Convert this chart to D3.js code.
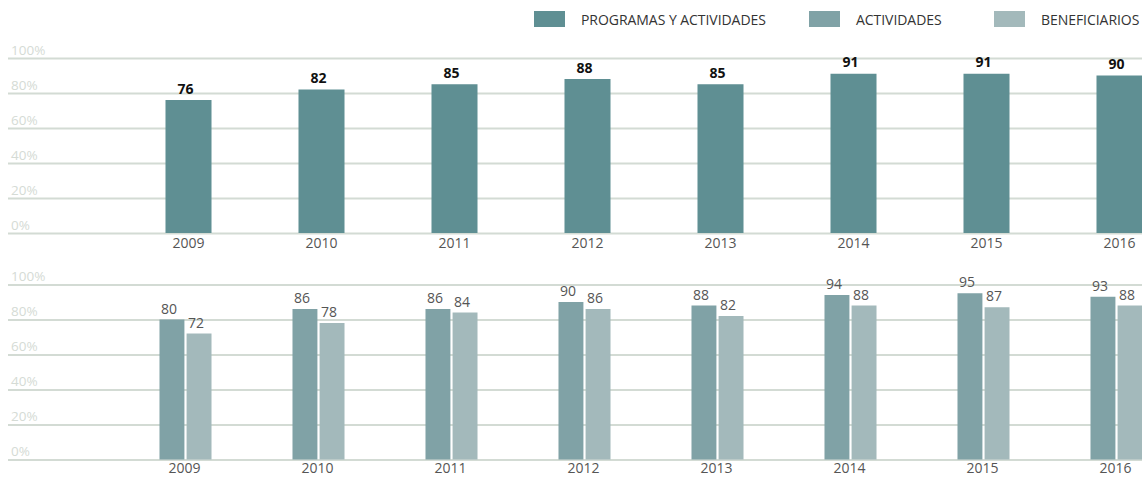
<!DOCTYPE html>
<html>
<head>
<meta charset="utf-8">
<script src="https://cdn.jsdelivr.net/npm/d3@7"></script>
<style>
  html, body { margin: 0; padding: 0; background: #fff; }
  svg { display: block; font-family: "Open Sans", sans-serif; }
</style>
</head>
<body>
<svg id="chart" width="1142" height="477"></svg>
<script>
const years = ["2009", "2010", "2011", "2012", "2013", "2014", "2015", "2016"];
const programasYActividades = [76, 82, 85, 88, 85, 91, 91, 90];
const actividades = [80, 86, 86, 90, 88, 94, 95, 93];
const beneficiarios = [72, 78, 84, 86, 82, 88, 87, 88];
const yTicks = [0, 20, 40, 60, 80, 100];
const legendLabels = ["PROGRAMAS Y ACTIVIDADES", "ACTIVIDADES", "BENEFICIARIOS"];

const colors = ["#5f8f93", "#80a2a6", "#a3b9bb"];
const gridColor = "#d3dbd4";
const svg = d3.select("#chart");
const W = 1142;

// Legend
const legendX = [534, 809, 994];
legendLabels.forEach((lab, i) => {
  const g = svg.append("g").attr("transform", `translate(${legendX[i]},11)`);
  g.append("rect").attr("width", 31).attr("height", 16).attr("fill", colors[i]);
  g.append("text").attr("x", 47).attr("y", 13.5)
    .attr("font-size", 14).attr("fill", "#333").attr("letter-spacing", -0.05)
    .text(lab);
});

function panel(y0, y100, xCenterOffset, labelOffset) {
  const y = d3.scaleLinear().domain([0, 100]).range([y0, y100]);
  const x = d3.scaleBand().domain(years)
    .range([122 + xCenterOffset, 1186 + xCenterOffset])
    .paddingInner(0.654).paddingOuter(0.327);
  const g = svg.append("g");
  const axis = d3.axisLeft(y).tickValues(yTicks).tickSize(-(W - 8)).tickFormat(d => d + "%");
  const ga = g.append("g").attr("transform", "translate(8,0)").call(axis);
  ga.select(".domain").remove();
  ga.selectAll(".tick line").attr("stroke", gridColor).attr("stroke-width", 2);
  ga.selectAll(".tick text").attr("x", 3).attr("dy", -4).attr("text-anchor", "start")
    .attr("font-size", 13.5).attr("fill", "#d5dbd5").attr("font-family", "Open Sans, sans-serif");
  const xa = d3.axisBottom(x).tickSize(0).tickPadding(0);
  const gx = g.append("g").attr("transform", `translate(0,${y0 + labelOffset})`).call(xa);
  gx.select(".domain").remove();
  gx.selectAll(".tick text").attr("font-size", 14).attr("fill", "#555")
    .attr("font-family", "Open Sans, sans-serif").attr("dy", "0.35em");
  return { x, y, g };
}

// Top panel
const topP = panel(233, 58, 0, 10.5);
topP.g.selectAll("rect.bar").data(programasYActividades).join("rect")
  .attr("class", "bar")
  .attr("x", (d, i) => topP.x(years[i]))
  .attr("width", topP.x.bandwidth())
  .attr("y", d => topP.y(d))
  .attr("height", d => topP.y(0) - topP.y(d))
  .attr("fill", colors[0]);
topP.g.selectAll("text.val").data(programasYActividades).join("text")
  .attr("class", "val")
  .attr("x", (d, i) => topP.x(years[i]) + topP.x.bandwidth() / 2 - 3)
  .attr("y", d => topP.y(d) - 6.5)
  .attr("text-anchor", "middle").attr("font-size", 14).attr("font-weight", 700)
  .attr("fill", "#111").text(d => d);

// Bottom panel
const botP = panel(459.5, 284.5, -4, 9);
const sub = d3.scaleBand().domain(["a", "b"]).range([-2, botP.x.bandwidth() + 4]).paddingInner(0.08);
const series = [["a", actividades, colors[1]], ["b", beneficiarios, colors[2]]];
series.forEach(([key, vals, col]) => {
  botP.g.selectAll("rect.b" + key).data(vals).join("rect")
    .attr("class", "b" + key)
    .attr("x", (d, i) => botP.x(years[i]) + sub(key))
    .attr("width", sub.bandwidth())
    .attr("y", d => botP.y(d))
    .attr("height", d => botP.y(0) - botP.y(d))
    .attr("fill", col);
  botP.g.selectAll("text.v" + key).data(vals).join("text")
    .attr("class", "v" + key)
    .attr("x", (d, i) => botP.x(years[i]) + sub(key) + sub.bandwidth() / 2 - 3)
    .attr("y", d => botP.y(d) - 6)
    .attr("text-anchor", "middle").attr("font-size", 14)
    .attr("fill", "#555").text(d => d);
});
</script>
</body>
</html>
